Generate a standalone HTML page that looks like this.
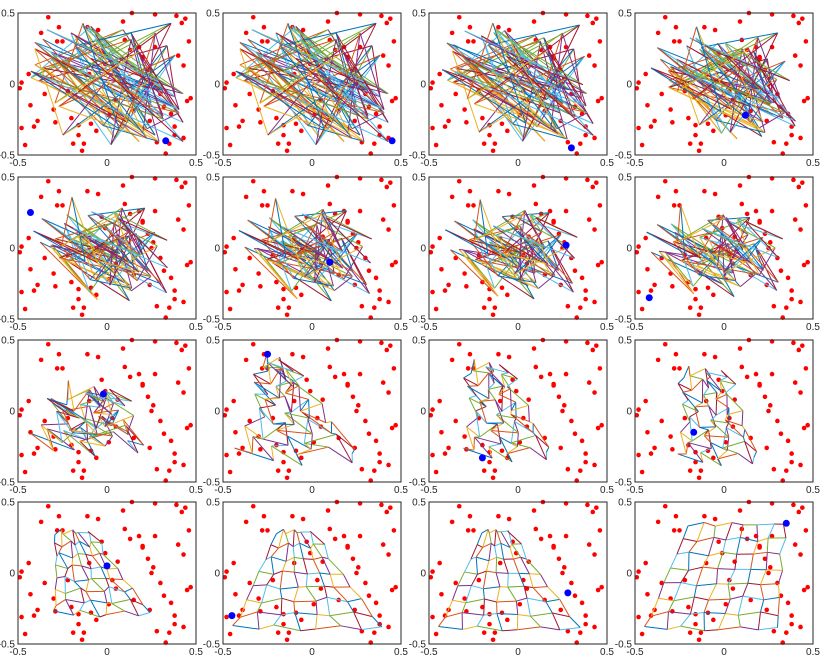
<!DOCTYPE html>
<html><head><meta charset="utf-8"><style>
html,body{margin:0;padding:0;background:#fff;}
svg{display:block;font-family:"Liberation Sans",sans-serif;}
</style></head><body>
<svg id="fig" width="831" height="657" viewBox="0 0 831 657" xmlns="http://www.w3.org/2000/svg"></svg>
<script>
// red sample points (x,y)
const pointsX = [-0.33,-0.27,-0.05,0.14,0.27,0.39,0.44,0.42,0.46,0.43,-0.37,-0.25,-0.11,0.09,0.2,0.27,0.47,-0.44,-0.48,-0.49,-0.41,-0.48,-0.46,-0.43,-0.39,-0.29,-0.2,-0.16,-0.13,-0.14,-0.06,-0.19,-0.03,0.06,0.1,0.13,0.18,0.25,0.3,0.32,0.36,0.38,0.43,0.35,0.33,0.28,0.23,0.26,0.05,-0.01,-0.28,-0.35,-0.09,0.2,0.15,0.03,-0.22,-0.1,0.4,0.45,-0.16,0.01,0.24,0.38,-0.3];
const pointsY = [0.47,0.4,0.38,0.5,0.49,0.48,0.46,0.43,0.3,0.13,0.36,0.3,0.4,0.44,0.18,0.26,-0.1,0.07,0.01,-0.03,-0.3,-0.31,-0.43,-0.15,-0.26,-0.27,-0.24,-0.36,-0.42,-0.47,-0.33,-0.42,0.22,0.08,0.31,0.24,0.26,0.0,-0.07,-0.16,-0.21,-0.3,-0.38,-0.42,-0.49,-0.41,0.1,0.04,-0.11,0.14,0.3,-0.07,-0.28,0.19,-0.19,-0.05,-0.05,0.07,0.2,-0.12,-0.29,-0.22,-0.26,-0.36,-0.18];
// mesh node jitter (8x8, row-major), normalized -1..1
const jitterX = [-0.8,0.9,-0.3,0.6,-0.9,0.2,0.95,-0.5, 0.4,-0.7,0.85,-0.1,0.5,-0.95,0.3,0.7, -0.6,0.1,0.75,-0.85,0.9,-0.2,0.55,-0.4, 0.95,-0.45,-0.05,0.65,-0.7,0.35,-0.9,0.2, -0.25,0.7,-0.8,0.3,0.05,0.85,-0.55,0.6, 0.6,-0.9,0.45,-0.35,0.8,-0.6,0.15,-0.75, -0.95,0.25,0.6,0.9,-0.4,0.5,-0.15,0.8, 0.15,-0.3,-0.65,0.4,0.7,-0.85,0.95,-0.2];
const jitterY = [0.7,-0.4,0.9,-0.8,0.3,0.85,-0.6,0.2, -0.9,0.5,-0.2,0.65,-0.7,0.1,0.8,-0.5, 0.35,-0.85,0.6,0.05,-0.45,0.9,-0.3,0.75, -0.15,0.8,-0.65,-0.9,0.4,-0.25,0.55,-0.7, 0.9,-0.1,0.25,0.7,-0.95,0.45,-0.8,0.1, -0.5,0.65,-0.75,0.2,0.95,-0.35,0.3,0.85, 0.2,-0.6,0.8,-0.4,0.6,-0.85,0.7,-0.05, -0.7,0.95,-0.3,0.5,-0.55,0.15,-0.9,0.4];
// per-panel state
const disorder = [1,1,0.95,0.8,0.6,0.55,0.5,0.45,0.22,0.16,0.12,0.1,0.04,0.03,0.02,0.02];
const meshXmin = [-0.45,-0.45,-0.4,-0.35,-0.4,-0.4,-0.4,-0.45,-0.45,-0.45,-0.3,-0.25,-0.3,-0.45,-0.45,-0.45];
const meshXmax = [0.45,0.45,0.45,0.4,0.3,0.3,0.3,0.3,0.2,0.3,0.2,0.2,0.25,0.4,0.35,0.3];
const meshTopXmin = [-0.45,-0.45,-0.4,-0.35,-0.4,-0.4,-0.4,-0.45,-0.3,-0.3,-0.3,-0.25,-0.3,-0.2,-0.2,-0.2];
const meshTopXmax = [0.45,0.45,0.45,0.4,0.3,0.3,0.3,0.3,0.05,-0.2,-0.1,0.0,-0.1,0.0,-0.05,0.35];
const meshYmin = [-0.45,-0.45,-0.45,-0.4,-0.38,-0.38,-0.35,-0.32,-0.3,-0.38,-0.35,-0.38,-0.3,-0.4,-0.4,-0.4];
const meshYmax = [0.45,0.45,0.45,0.3,0.25,0.25,0.25,0.2,0.15,0.4,0.35,0.3,0.3,0.3,0.3,0.35];
const winnerX = [0.33,0.45,0.3,0.12,-0.43,0.1,0.27,-0.42,-0.02,-0.25,-0.2,-0.17,0.0,-0.45,0.28,0.35];
const winnerY = [-0.4,-0.4,-0.45,-0.22,0.25,-0.1,0.02,-0.35,0.12,0.4,-0.33,-0.15,0.05,-0.3,-0.14,0.35];
const xTicks = [-0.5,0,0.5];
const xTickLabels = ["-0.5","0","0.5"];
const yTickLabels = ["0.5","0","-0.5"];

const colLeft=[18,223,429,635], rowTop=[13,177,340,502], W=178, H=142;
const colors=["#0072BD","#D95319","#EDB120","#7E2F8E","#77AC30","#4DBEEE","#A2142F"];
const svg=document.getElementById('fig'), NS="http://www.w3.org/2000/svg";
function mk(t,a,p){const e=document.createElementNS(NS,t);for(const k in a)e.setAttribute(k,a[k]);(p||svg).appendChild(e);return e;}
const N=8;
for(let k=0;k<16;k++){
  const L=colLeft[k%4], T=rowTop[Math.floor(k/4)];
  const sx=v=>L+(v+0.5)*W, sy=v=>T+(0.5-v)*H;
  const g=mk('g',{});
  
  
  const clip=mk('clipPath',{id:'c'+k},g); mk('rect',{x:L,y:T,width:W,height:H},clip);
  mk('rect',{x:L,y:T,width:W,height:H,fill:'#fff',stroke:'none'},g);
  const pg=mk('g',{},g);
  
  
  for(let i=0;i<pointsX.length;i++){
    const c=mk('circle',{cx:sx(pointsX[i]),cy:sy(pointsY[i]),r:2.3,fill:'#f00'},pg);
    
    
  }
  const d=disorder[k];
  const nx=[],ny=[];
  for(let j=0;j<N;j++)for(let i=0;i<N;i++){
    const idx=j*N+i;
    const f=j/(N-1);
    const x0=meshXmin[k]*(1-f)+meshTopXmin[k]*f, x1=meshXmax[k]*(1-f)+meshTopXmax[k]*f;
    const gx=x0+(x1-x0)*i/(N-1);
    const gy=meshYmin[k]+(meshYmax[k]-meshYmin[k])*f;
    const s=0.012;
    nx.push(gx*(1-d)+jitterX[idx]*0.45*d+jitterX[(idx+17)%64]*s*(1-d));
    ny.push(gy*(1-d)+jitterY[idx]*0.45*d+jitterY[(idx+23)%64]*s*(1-d));
  }
  const mg=mk('g',{'clip-path':'url(#c'+k+')'},g);
  
  
  let ci=0;
  for(let j=0;j<N;j++)for(let i=0;i<N;i++){
    const a=j*N+i;
    if(i<N-1){const b=a+1;const ln=mk('line',{x1:sx(nx[a]),y1:sy(ny[a]),x2:sx(nx[b]),y2:sy(ny[b]),stroke:colors[ci++%7],'stroke-width':1},mg);
      }
    if(j<N-1){const b=a+N;const ln=mk('line',{x1:sx(nx[a]),y1:sy(ny[a]),x2:sx(nx[b]),y2:sy(ny[b]),stroke:colors[ci++%7],'stroke-width':1},mg);
      }
  }
  const w=mk('circle',{cx:sx(winnerX[k]),cy:sy(winnerY[k]),r:3.5,fill:'#00f'},g);
  
  
  const fr=mk('rect',{x:L,y:T,width:W,height:H,fill:'none',stroke:'#262626','stroke-width':1},g);
  
  
  for(let t=0;t<3;t++){
    const xt=mk('text',{x:sx(xTicks[t]),y:T+H+11,'font-size':10,'text-anchor':'middle',fill:'#262626'},g);
    xt.textContent=xTickLabels[t];
    
    
    const yt=mk('text',{x:L-3,y:sy(-xTicks[t])+3.5,'font-size':10,'text-anchor':'end',fill:'#262626'},g);
    yt.textContent=yTickLabels[t];
    
    
  }
}
</script>
</body></html>
